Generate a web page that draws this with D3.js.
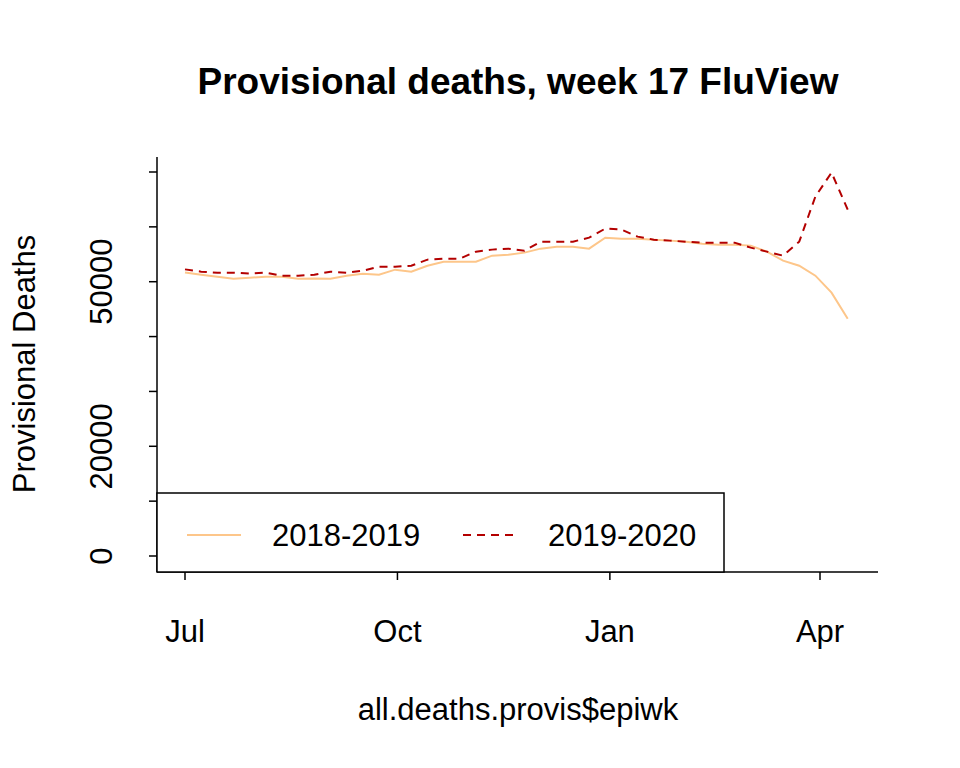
<!DOCTYPE html>
<html lang="en">
<head>
<meta charset="UTF-8">
<title>Provisional deaths</title>
<script src="https://d3js.org/d3.v7.min.js"></script>
<style>
  body { margin: 0; background: #fff; }
  svg text { font-family: "Liberation Sans", Arial, sans-serif; fill: #000; }
</style>
</head>
<body>
<svg width="960" height="768"></svg>
<script>
// weekly provisional deaths
const deaths2018 = [51700,51280,50920,50550,50730,50920,50920,50550,50600,50550,51100,51460,51280,52200,
  51830,52920,53650,53650,53650,54750,54930,55300,56030,56390,56390,56030,58030,57850,57850,57670,57490,
  57300,56940,56760,56760,56580,55480,53840,52920,51100,48000,43250];
const deaths2019 = [52250,51830,51650,51650,51470,51650,51100,51100,51280,51830,51650,52010,52740,52740,
  52920,54020,54200,54200,55480,55850,56030,55660,57300,57300,57300,58030,59680,59500,58220,57670,57490,
  57300,57120,57120,57120,56210,55480,54750,57300,65520,69900,63140];
const yTicks = [0, 10000, 20000, 30000, 40000, 50000, 60000, 70000];
const yLabels = [0, 20000, 50000];
const xTickLabels = ["Jul", "Oct", "Jan", "Apr"];
const xTickDates = [new Date(2019, 6, 1), new Date(2019, 9, 1), new Date(2020, 0, 1), new Date(2020, 3, 1)];

const start = new Date(2019, 6, 1);
const weeks = deaths2018.map((d, i) => d3.timeDay.offset(start, i * 7));

const svg = d3.select("svg");
const x = d3.scaleTime().domain([xTickDates[0], xTickDates[3]]).range([185, 820]);
const y = d3.scaleLinear().domain([0, 70000]).range([556, 172]);

svg.append("text").attr("x", 518).attr("y", 94).attr("text-anchor", "middle")
  .style("font-size", "37px").style("font-weight", "bold").text("Provisional deaths, week 17 FluView");

// axes frame
svg.append("line").attr("x1", 157).attr("x2", 157).attr("y1", 157).attr("y2", 572).attr("stroke", "#000").attr("stroke-width", 1.5);
svg.append("line").attr("x1", 157).attr("x2", 878).attr("y1", 572).attr("y2", 572).attr("stroke", "#000").attr("stroke-width", 1.5);

yTicks.forEach(t => {
  svg.append("line").attr("x1", 149).attr("x2", 157).attr("y1", y(t)).attr("y2", y(t)).attr("stroke", "#000").attr("stroke-width", 1.5);
});
yLabels.forEach(t => {
  svg.append("text").attr("transform", `translate(112,${y(t)}) rotate(-90)`)
    .attr("text-anchor", "middle").style("font-size", "31px").text(t);
});
xTickDates.forEach((d, i) => {
  svg.append("line").attr("x1", x(d)).attr("x2", x(d)).attr("y1", 572).attr("y2", 580).attr("stroke", "#000").attr("stroke-width", 1.5);
  svg.append("text").attr("x", x(d)).attr("y", 642).attr("text-anchor", "middle")
    .style("font-size", "31px").text(xTickLabels[i]);
});

svg.append("text").attr("x", 518).attr("y", 720).attr("text-anchor", "middle")
  .style("font-size", "31px").text("all.deaths.provis$epiwk");
svg.append("text").attr("transform", "translate(35,364) rotate(-90)")
  .attr("text-anchor", "middle").style("font-size", "31px").text("Provisional Deaths");

const line = d3.line().x((d, i) => x(weeks[i])).y(d => y(d));
svg.append("path").datum(deaths2018).attr("d", line).attr("fill", "none")
  .attr("stroke", "#FDC68A").attr("stroke-width", 2);
svg.append("path").datum(deaths2019).attr("d", line).attr("fill", "none")
  .attr("stroke", "#B30000").attr("stroke-width", 2).attr("stroke-dasharray", "8,6");

// legend
svg.append("rect").attr("x", 157).attr("y", 493).attr("width", 567).attr("height", 79)
  .attr("fill", "#fff").attr("stroke", "#000").attr("stroke-width", 1.5);
svg.append("line").attr("x1", 187).attr("x2", 241).attr("y1", 535).attr("y2", 535)
  .attr("stroke", "#FDC68A").attr("stroke-width", 2);
svg.append("text").attr("x", 272).attr("y", 546).style("font-size", "31px").text("2018-2019");
svg.append("line").attr("x1", 463).attr("x2", 518).attr("y1", 535).attr("y2", 535)
  .attr("stroke", "#B30000").attr("stroke-width", 2).attr("stroke-dasharray", "8,6");
svg.append("text").attr("x", 548).attr("y", 546).style("font-size", "31px").text("2019-2020");
</script>
</body>
</html>
